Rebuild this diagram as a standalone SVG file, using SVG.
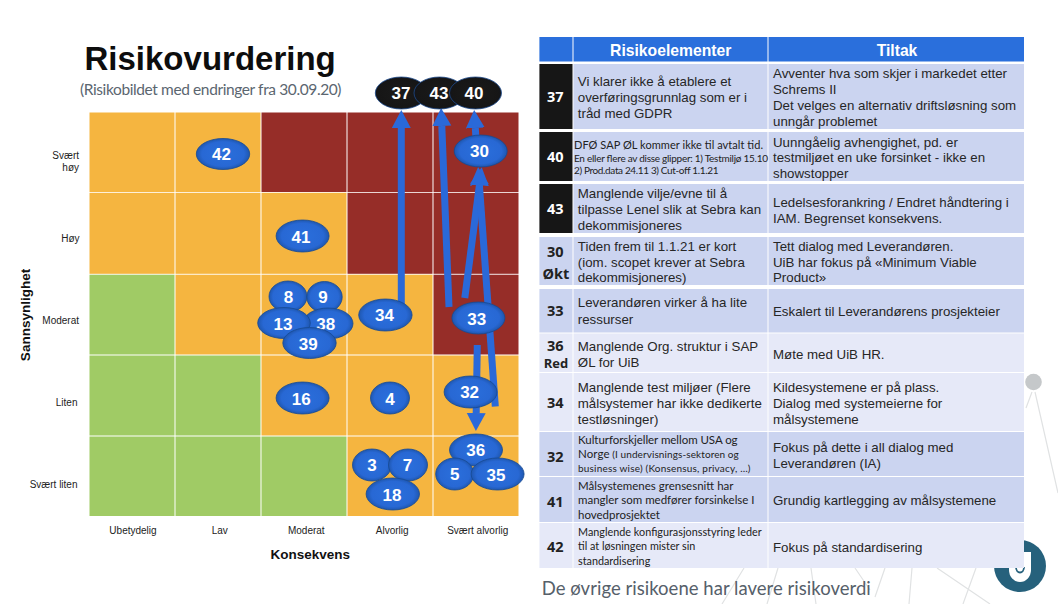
<svg xmlns="http://www.w3.org/2000/svg" width="1058" height="604" viewBox="0 0 1058 604">
<style>
.o{fill:#f5b540}.r{fill:#962d28}.g{fill:#a0cb65}
.ax{font:10px "Liberation Sans",Arial,sans-serif;fill:#222}
.axb{font:bold 13.500px "Liberation Sans",Arial,sans-serif;fill:#111}
.n{font:bold 17px "Liberation Sans",Arial,sans-serif;fill:#fff;text-anchor:middle}
.e{fill:url(#blue);stroke:#174a93;stroke-width:.8}
.k{fill:url(#black);stroke:#1d4a8c;stroke-width:.8}
.d{fill:#cbd4f0}.l{fill:#e6e9f8}.b{fill:#161616}
.t{font:13.300px "Liberation Sans",Arial,sans-serif;fill:#262626}
.s{font:10px Lato,"Open Sans",sans-serif;fill:#222}
.num{font:bold 14.500px "Open Sans","Liberation Sans",sans-serif;fill:#222;text-anchor:middle}
.w{fill:#fff}
.h{font:bold 15.700px "Liberation Sans",Arial,sans-serif;fill:#fff;text-anchor:middle}
.bg{stroke:#e0e2e3;stroke-width:1.200;fill:none}
.ar{stroke:#2a69d9;stroke-width:7;fill:none;marker-end:url(#head)}
</style>
<defs>
<radialGradient id="blue" cx=".5" cy=".5" r=".55"><stop offset="0" stop-color="#2a6fdc"/><stop offset=".72" stop-color="#2868d4"/><stop offset="1" stop-color="#1a4f9f"/></radialGradient>
<radialGradient id="black" cx=".5" cy=".5" r=".55"><stop offset="0" stop-color="#1a1a1a"/><stop offset=".8" stop-color="#161616"/><stop offset="1" stop-color="#0e1420"/></radialGradient>
<marker id="head" markerUnits="userSpaceOnUse" viewBox="0 -10 18 20" refX="0" refY="0" markerWidth="18" markerHeight="20" orient="auto"><path d="M0 -9.500L18 0L0 9.500z" fill="#2a69d9"/></marker>
</defs>

<g id="background">
<path class="bg" d="M1026 408L1032 392M1035 392L1058 493M744 568L722 604M778 568L767 604M811 568L816 604M855 568L870 590M885 568L875 597M912 568L909 604M937 568L990 604M976 568L963 604"/>
<circle cx="1033.500" cy="382" r="8.300" fill="#c5c8ca"/>
<circle cx="1020" cy="566" r="26" fill="#26617c"/>
<path d="M1009 552H1031V570a11 12 0 0 1-22 0z" fill="#fff"/>
<path d="M1016 567a4 5.500 0 0 0 8 0" fill="none" stroke="#26617c" stroke-width="1.800"/>
</g>

<text x="84.500" y="70" style="font:bold 33px 'Liberation Sans',Arial,sans-serif;fill:#0d0d0d">Risikovurdering</text>
<text x="80" y="95" style="font:15.500px Lato,'Open Sans',sans-serif;fill:#5b6670" textLength="261.500">(Risikobildet med endringer fra 30.09.20)</text>

<g id="matrix">
<rect class="o" x="89.500" y="112.500" width="85" height="79.500"/><rect class="o" x="175.500" y="112.500" width="85" height="79.500"/><rect class="r" x="261.500" y="112.500" width="85" height="79.500"/><rect class="r" x="347.500" y="112.500" width="85" height="79.500"/><rect class="r" x="433.500" y="112.500" width="85" height="79.500"/>
<rect class="o" x="89.500" y="192.800" width="85" height="81"/><rect class="o" x="175.500" y="192.800" width="85" height="81"/><rect class="o" x="261.500" y="192.800" width="85" height="81"/><rect class="r" x="347.500" y="192.800" width="85" height="81"/><rect class="r" x="433.500" y="192.800" width="85" height="81"/>
<rect class="g" x="89.500" y="274.700" width="85" height="79.800"/><rect class="o" x="175.500" y="274.700" width="85" height="79.800"/><rect class="o" x="261.500" y="274.700" width="85" height="79.800"/><rect class="o" x="347.500" y="274.700" width="85" height="79.800"/><rect class="r" x="433.500" y="274.700" width="85" height="79.800"/>
<rect class="g" x="89.500" y="355.500" width="85" height="80"/><rect class="g" x="175.500" y="355.500" width="85" height="80"/><rect class="o" x="261.500" y="355.500" width="85" height="80"/><rect class="o" x="347.500" y="355.500" width="85" height="80"/><rect class="o" x="433.500" y="355.500" width="85" height="80"/>
<rect class="g" x="89.500" y="436.500" width="85" height="79.500"/><rect class="g" x="175.500" y="436.500" width="85" height="79.500"/><rect class="g" x="261.500" y="436.500" width="85" height="79.500"/><rect class="o" x="347.500" y="436.500" width="85" height="79.500"/><rect class="o" x="433.500" y="436.500" width="85" height="79.500"/>
</g>

<g id="axes">
<text class="ax" x="79" y="159" text-anchor="end">Svært</text><text class="ax" x="79" y="171" text-anchor="end">høy</text>
<text class="ax" x="79.500" y="242" text-anchor="end">Høy</text>
<text class="ax" x="79" y="324" text-anchor="end">Moderat</text>
<text class="ax" x="77.500" y="406" text-anchor="end">Liten</text>
<text class="ax" x="77.500" y="488" text-anchor="end">Svært liten</text>
<text class="ax" x="133" y="534" text-anchor="middle">Ubetydelig</text>
<text class="ax" x="219.700" y="534" text-anchor="middle">Lav</text>
<text class="ax" x="306.300" y="534" text-anchor="middle">Moderat</text>
<text class="ax" x="392.200" y="534" text-anchor="middle">Alvorlig</text>
<text class="ax" x="477.700" y="534" text-anchor="middle">Svært alvorlig</text>
<text class="axb" x="310.300" y="559" text-anchor="middle">Konsekvens</text>
<text class="axb" transform="translate(29.500 315) rotate(-90)" text-anchor="middle">Sannsynlighet</text>
</g>

<g id="connectors">
<line class="ar" x1="401.300" y1="305" x2="401.300" y2="128"/>
<line class="ar" x1="449" y1="307" x2="441.800" y2="126"/>
<line class="ar" x1="476.700" y1="150" x2="475.300" y2="128"/>
<line class="ar" x1="464.800" y1="298" x2="479.400" y2="185"/>
<line class="ar" x1="495.300" y1="406.500" x2="479.400" y2="185"/>
<line class="ar" x1="477.300" y1="345" x2="476.200" y2="413"/>
</g>

<g id="n37"><ellipse class="k" cx="401.300" cy="93" rx="26" ry="16"/><text class="n" x="401" y="99">37</text></g>
<g id="n43"><ellipse class="k" cx="439.500" cy="93" rx="25.500" ry="16"/><text class="n" x="439" y="99">43</text></g>
<g id="n40"><ellipse class="k" cx="475.500" cy="93" rx="26" ry="16"/><text class="n" x="474" y="99">40</text></g>
<g id="n42"><ellipse class="e" cx="223" cy="154" rx="26.700" ry="15.500"/><text class="n" x="221.400" y="160">42</text></g>
<g id="n30"><ellipse class="e" cx="480.700" cy="151" rx="26.500" ry="16"/><text class="n" x="479.400" y="157">30</text></g>
<g id="n41"><ellipse class="e" cx="302.600" cy="236" rx="26.500" ry="16"/><text class="n" x="301" y="243">41</text></g>
<g id="n8"><ellipse class="e" cx="288" cy="296.500" rx="19" ry="15.500"/><text class="n" x="288.400" y="303">8</text></g>
<g id="n9"><ellipse class="e" cx="324.500" cy="297" rx="17.700" ry="15.500"/><text class="n" x="323" y="303">9</text></g>
<g id="n38"><ellipse class="e" cx="328" cy="323.500" rx="25" ry="15.500"/><text class="n" x="325.700" y="330">38</text></g>
<g id="n13"><ellipse class="e" cx="284" cy="323" rx="26.300" ry="15.500"/><text class="n" x="283" y="330">13</text></g>
<g id="n39"><ellipse class="e" cx="309.500" cy="343" rx="26.700" ry="15.500"/><text class="n" x="308.300" y="349.500">39</text></g>
<g id="n34"><ellipse class="e" cx="385.400" cy="315" rx="26.700" ry="16"/><text class="n" x="384.400" y="321">34</text></g>
<g id="n33"><ellipse class="e" cx="478.400" cy="318" rx="26.500" ry="16"/><text class="n" x="476.700" y="325">33</text></g>
<g id="n16"><ellipse class="e" cx="302.600" cy="398" rx="26.500" ry="16"/><text class="n" x="301.200" y="405">16</text></g>
<g id="n4"><ellipse class="e" cx="390" cy="398" rx="19.500" ry="16"/><text class="n" x="390" y="405">4</text></g>
<g id="n32"><ellipse class="e" cx="470.600" cy="392" rx="26.500" ry="16"/><text class="n" x="469.600" y="398">32</text></g>
<g id="n36"><ellipse class="e" cx="476" cy="450" rx="26.500" ry="16"/><text class="n" x="475.700" y="456">36</text></g>
<g id="n5"><ellipse class="e" cx="454.700" cy="474" rx="19" ry="16"/><text class="n" x="454.700" y="480">5</text></g>
<g id="n35"><ellipse class="e" cx="497.600" cy="474" rx="26.500" ry="16"/><text class="n" x="496" y="481">35</text></g>
<g id="n3"><ellipse class="e" cx="372" cy="465" rx="19.500" ry="16"/><text class="n" x="372" y="471">3</text></g>
<g id="n7"><ellipse class="e" cx="408" cy="465" rx="19.500" ry="16"/><text class="n" x="407.400" y="471">7</text></g>
<g id="n18"><ellipse class="e" cx="392.800" cy="494" rx="26.700" ry="16"/><text class="n" x="392" y="501">18</text></g>

<g id="table-head">
<rect x="539.400" y="37" width="33.100" height="24.500" fill="#2a6fdc"/><rect x="573.500" y="37" width="194" height="24.500" fill="#2a6fdc"/><rect x="768.500" y="37" width="255.500" height="24.500" fill="#2a6fdc"/>
<text class="h" x="670.700" y="56">Risikoelementer</text><text class="h" x="897" y="56">Tiltak</text>
</g>
<g id="row37">
<rect class="b" x="539.400" y="64" width="33.100" height="65"/><rect class="d" x="573.500" y="64" width="194" height="65"/><rect class="d" x="768.500" y="64" width="255.500" height="65"/>
<text class="num w" x="555.300" y="102">37</text>
<text class="t" x="577.800" y="86">Vi klarer ikke å etablere et</text><text class="t" x="577.800" y="102">overføringsgrunnlag  som er i</text><text class="t" x="577.800" y="118">tråd med GDPR</text>
<text class="t" x="773" y="78">Avventer hva som skjer i markedet etter</text><text class="t" x="773" y="94">Schrems II</text><text class="t" x="773" y="110">Det velges en alternativ driftsløsning  som</text><text class="t" x="773" y="126">unngår problemet</text>
</g>
<g id="row40">
<rect class="b" x="539.400" y="132" width="33.100" height="49"/><rect class="d" x="573.500" y="132" width="194" height="49"/><rect class="d" x="768.500" y="132" width="255.500" height="49"/>
<text class="num w" x="555.300" y="162">40</text>
<text class="s" x="574" y="149" style="font-size:11px" textLength="189">DFØ SAP ØL kommer ikke til avtalt tid.</text><text class="s" x="574" y="162" textLength="194">En eller flere av disse glipper: 1) Testmiljø 15.10</text><text class="s" x="574" y="174" textLength="144.500">2) Prod.data 24.11 3) Cut-off 1.1.21</text>
<text class="t" x="773" y="147">Uunngåelig avhengighet, pd. er</text><text class="t" x="773" y="162">testmiljøet en uke forsinket - ikke en</text><text class="t" x="773" y="178">showstopper</text>
</g>
<g id="row43">
<rect class="b" x="539.400" y="184" width="33.100" height="49"/><rect class="d" x="573.500" y="184" width="194" height="49"/><rect class="d" x="768.500" y="184" width="255.500" height="49"/>
<text class="num w" x="555.300" y="214">43</text>
<text class="t" x="577.800" y="198">Manglende vilje/evne  til å</text><text class="t" x="577.800" y="214">tilpasse Lenel slik at Sebra kan</text><text class="t" x="577.800" y="230">dekommisjoneres</text>
<text class="t" x="773" y="207">Ledelsesforankring / Endret håndtering  i</text><text class="t" x="773" y="223">IAM.  Begrenset konsekvens.</text>
</g>
<g id="row30">
<rect class="d" x="539.400" y="237" width="33.100" height="48"/><rect class="d" x="573.500" y="237" width="194" height="48"/><rect class="d" x="768.500" y="237" width="255.500" height="48"/>
<text class="num" x="555.300" y="257">30</text><text class="num" x="556" y="279">Økt</text>
<text class="t" x="577.800" y="251">Tiden frem til 1.1.21 er kort</text><text class="t" x="577.800" y="267">(iom. scopet krever at Sebra</text><text class="t" x="577.800" y="282">dekommisjoneres)</text>
<text class="t" x="773" y="251">Tett dialog med Leverandøren.</text><text class="t" x="773" y="267">UiB har fokus på «Minimum Viable</text><text class="t" x="773" y="282">Product»</text>
</g>
<g id="row33">
<rect class="d" x="539.400" y="289" width="33.100" height="43.500"/><rect class="d" x="573.500" y="289" width="194" height="43.500"/><rect class="d" x="768.500" y="289" width="255.500" height="43.500"/>
<text class="num" x="555.300" y="316">33</text>
<text class="t" x="577.800" y="307">Leverandøren  virker å ha lite</text><text class="t" x="577.800" y="324">ressurser</text>
<text class="t" x="773" y="316">Eskalert til Leverandørens  prosjekteier</text>
</g>
<g id="row36">
<rect class="l" x="539.400" y="333.500" width="33.100" height="38.500"/><rect class="l" x="573.500" y="333.500" width="194" height="38.500"/><rect class="l" x="768.500" y="333.500" width="255.500" height="38.500"/>
<text class="num" x="555.300" y="351">36</text><text class="num" x="556" y="368" style="font-size:13px">Red</text>
<text class="t" x="577.800" y="351">Manglende Org. struktur  i SAP</text><text class="t" x="577.800" y="367">ØL for UiB</text>
<text class="t" x="773" y="359">Møte med UiB HR.</text>
</g>
<g id="row34">
<rect class="l" x="539.400" y="373" width="33.100" height="58"/><rect class="l" x="573.500" y="373" width="194" height="58"/><rect class="l" x="768.500" y="373" width="255.500" height="58"/>
<text class="num" x="555.300" y="408">34</text>
<text class="t" x="577.800" y="392">Manglende test miljøer (Flere</text><text class="t" x="577.800" y="408">målsystemer  har ikke dedikerte</text><text class="t" x="577.800" y="424">testløsninger)</text>
<text class="t" x="773" y="392">Kildesystemene er på plass.</text><text class="t" x="773" y="408">Dialog med systemeierne for</text><text class="t" x="773" y="424">målsystemene</text>
</g>
<g id="row32">
<rect class="d" x="539.400" y="432" width="33.100" height="44"/><rect class="d" x="573.500" y="432" width="194" height="44"/><rect class="d" x="768.500" y="432" width="255.500" height="44"/>
<text class="num" x="555.300" y="462">32</text>
<text class="s" x="578" y="444" style="font-size:11.500px" textLength="159.600">Kulturforskjeller mellom USA og</text><text class="s" x="578" y="458" textLength="160.800"><tspan style="font-size:11.500px">Norge</tspan> (I undervisnings-sektoren og</text><text class="s" x="578" y="472" textLength="172.500">business wise) (Konsensus, privacy, …)</text>
<text class="t" x="773" y="452">Fokus på dette i all dialog med</text><text class="t" x="773" y="468">Leverandøren  (IA)</text>
</g>
<g id="row41">
<rect class="d" x="539.400" y="477" width="33.100" height="45"/><rect class="d" x="573.500" y="477" width="194" height="45"/><rect class="d" x="768.500" y="477" width="255.500" height="45"/>
<text class="num" x="555.300" y="507">41</text>
<text class="s" x="578" y="490" style="font-size:11.500px">Målsystemenes grensesnitt har</text><text class="s" x="578" y="504" style="font-size:11.500px">mangler som medfører forsinkelse I</text><text class="s" x="578" y="519" style="font-size:11.500px">hovedprosjektet</text>
<text class="t" x="773" y="505">Grundig kartlegging av målsystemene</text>
</g>
<g id="row42">
<rect class="l" x="539.400" y="523" width="33.100" height="45"/><rect class="l" x="573.500" y="523" width="194" height="45"/><rect class="l" x="768.500" y="523" width="255.500" height="45"/>
<text class="num" x="555.300" y="552">42</text>
<text class="s" x="578" y="536" style="font-size:10.800px" textLength="183.600">Manglende konfigurasjonsstyring  leder</text><text class="s" x="578" y="550" style="font-size:10.800px">til at løsningen  mister sin</text><text class="s" x="578" y="565" style="font-size:10.800px">standardisering</text>
<text class="t" x="773" y="552">Fokus på standardisering</text>
</g>
<text x="541.800" y="595" style="font:18.500px Lato,'Open Sans',sans-serif;fill:#56606a" textLength="329">De øvrige risikoene har lavere risikoverdi</text>
</svg>
